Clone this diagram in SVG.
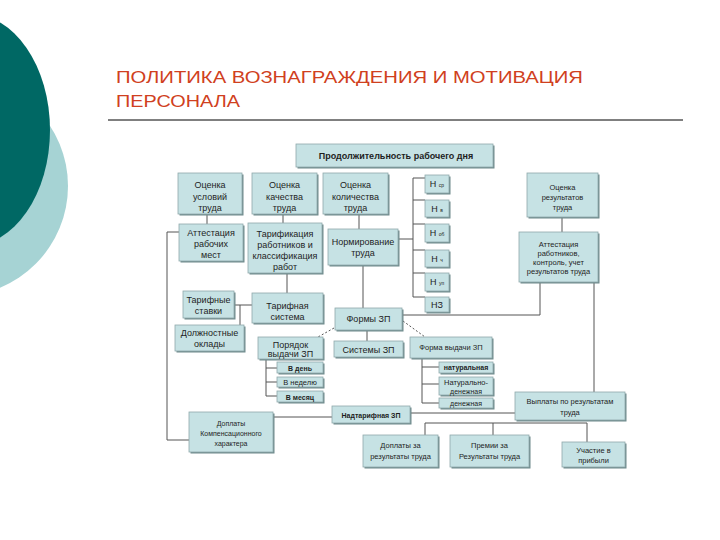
<svg xmlns="http://www.w3.org/2000/svg" width="720" height="540" viewBox="0 0 720 540">
<style>
.sh{fill:#6f8a8c}
.b{fill:#c6e2e4;stroke:#8fa9ab;stroke-width:0.8}
.t{font-family:"Liberation Sans",Arial,sans-serif;font-size:9px;fill:#1e1e1e;text-anchor:middle}
.s{font-size:7.5px}
.xs{font-size:7px}
.bd{font-weight:bold}
.c{fill:none;stroke:#555;stroke-width:1}
.d{fill:none;stroke:#555;stroke-width:1;stroke-dasharray:2,2}
.title{font-family:"Liberation Sans",Arial,sans-serif;font-size:17px;fill:#d04020}
</style>
<rect width="720" height="540" fill="#fff"/>
<circle cx="-42" cy="186" r="110" fill="#a6d3d4"/>
<ellipse cx="-30" cy="130" rx="80" ry="116" fill="#006864"/>
<text class="title" x="116" y="83" textLength="467" lengthAdjust="spacingAndGlyphs">ПОЛИТИКА ВОЗНАГРАЖДЕНИЯ  И МОТИВАЦИЯ</text>
<text class="title" x="116" y="107" textLength="124" lengthAdjust="spacingAndGlyphs">ПЕРСОНАЛА</text>
<line x1="108" y1="120" x2="683" y2="120" stroke="#000" stroke-width="1"/>

<g id="connectors">
<path class="c" d="M207,214V224M283,214V223M359,214V229M287,273V293M363,265V308M367,330V341"/>
<path class="d" d="M334,328L318,337M403,321L425,337"/>
<path class="c" d="M398,239H413M413,178V297M413,178H425M413,200H425M413,224H425M413,250H425M413,273H425M413,297H425"/>
<path class="c" d="M403,315H540V282M562,217V232M594,282V392"/>
<path class="c" d="M234,305H252M240,305V325"/>
<path class="c" d="M266,359V396M266,368H277M266,382H277M266,396H277"/>
<path class="c" d="M422,358V403M422,367H439M422,384H439M422,403H439"/>
<path class="c" d="M179,232H167V440H189"/>
<path class="c" d="M273,417H332M410,413H515"/>
<path class="c" d="M425,423H587M425,423V435M493,423V435M587,423V442"/>
</g>

<g id="n_prod"><rect class="sh" x="297.5" y="145.5" width="197" height="23"/><rect class="b" x="296" y="144" width="197" height="23"/><text class="t bd" x="396" y="159">Продолжительность рабочего дня</text></g>
<g id="n_ocu"><rect class="sh" x="179.5" y="174.5" width="64" height="41"/><rect class="b" x="178" y="173" width="64" height="41"/><text class="t" x="210" y="188">Оценка</text><text class="t" x="210" y="200">условий</text><text class="t" x="210" y="211">труда</text></g>
<g id="n_ock"><rect class="sh" x="253.5" y="174.5" width="65" height="41"/><rect class="b" x="252" y="173" width="65" height="41"/><text class="t" x="284.5" y="188">Оценка</text><text class="t" x="284.5" y="200">качества</text><text class="t" x="284.5" y="211">труда</text></g>
<g id="n_ocl"><rect class="sh" x="324.5" y="174.5" width="65" height="41"/><rect class="b" x="323" y="173" width="65" height="41"/><text class="t" x="355.5" y="188">Оценка</text><text class="t" x="355.5" y="200">количества</text><text class="t" x="355.5" y="211">труда</text></g>
<g id="n_att"><rect class="sh" x="180.5" y="225.5" width="64" height="37"/><rect class="b" x="179" y="224" width="64" height="37"/><text class="t" x="211" y="236">Аттестация</text><text class="t" x="211" y="247">рабочих</text><text class="t" x="211" y="258">мест</text></g>
<g id="n_tar"><rect class="sh" x="249.5" y="224.5" width="74" height="50"/><rect class="b" x="248" y="223" width="74" height="50"/><text class="t" x="285" y="237">Тарификация</text><text class="t" x="285" y="248">работников и</text><text class="t" x="285" y="259">классификация</text><text class="t" x="285" y="270">работ</text></g>
<g id="n_norm"><rect class="sh" x="329.5" y="230.5" width="70" height="36"/><rect class="b" x="328" y="229" width="70" height="36"/><text class="t" x="363" y="245">Нормирование</text><text class="t" x="363" y="256">труда</text></g>
<g id="n_hsr"><rect class="sh" x="426.5" y="176.5" width="24" height="18"/><rect class="b" x="425" y="175" width="24" height="18"/><text class="t" x="437" y="187">Н <tspan style="font-size:5px">ср</tspan></text></g>
<g id="n_hv"><rect class="sh" x="426.5" y="201.5" width="24" height="17"/><rect class="b" x="425" y="200" width="24" height="17"/><text class="t" x="437" y="212">Н <tspan style="font-size:5px">в</tspan></text></g>
<g id="n_hob"><rect class="sh" x="426.5" y="225.5" width="24" height="18"/><rect class="b" x="425" y="224" width="24" height="18"/><text class="t" x="437" y="236">Н <tspan style="font-size:5px">об</tspan></text></g>
<g id="n_hch"><rect class="sh" x="426.5" y="251.5" width="24" height="17"/><rect class="b" x="425" y="250" width="24" height="17"/><text class="t" x="437" y="262">Н <tspan style="font-size:5px">ч</tspan></text></g>
<g id="n_hup"><rect class="sh" x="426.5" y="274.5" width="24" height="18"/><rect class="b" x="425" y="273" width="24" height="18"/><text class="t" x="437" y="285">Н <tspan style="font-size:5px">уп</tspan></text></g>
<g id="n_nz"><rect class="sh" x="426.5" y="298.5" width="24" height="15"/><rect class="b" x="425" y="297" width="24" height="15"/><text class="t" x="437" y="308">НЗ</text></g>
<g id="n_ocr"><rect class="sh" x="528.5" y="174.5" width="71" height="44"/><rect class="b" x="527" y="173" width="71" height="44"/><text class="t s" x="562.5" y="190">Оценка</text><text class="t s" x="562.5" y="200">результатов</text><text class="t s" x="562.5" y="210">труда</text></g>
<g id="n_attr"><rect class="sh" x="520.5" y="233.5" width="79" height="50"/><rect class="b" x="519" y="232" width="79" height="50"/><text class="t s" x="558.5" y="247">Аттестация</text><text class="t s" x="558.5" y="256">работников,</text><text class="t s" x="558.5" y="265">контроль, учет</text><text class="t s" x="558.5" y="274">результатов труда</text></g>
<g id="n_tst"><rect class="sh" x="184.5" y="292.5" width="51" height="27"/><rect class="b" x="183" y="291" width="51" height="27"/><text class="t" x="208.5" y="303">Тарифные</text><text class="t" x="208.5" y="314">ставки</text></g>
<g id="n_doc"><rect class="sh" x="176.5" y="326.5" width="69" height="26"/><rect class="b" x="175" y="325" width="69" height="26"/><text class="t" x="209.5" y="336">Должностные</text><text class="t" x="209.5" y="347">оклады</text></g>
<g id="n_tsys"><rect class="sh" x="253.5" y="294.5" width="71" height="30"/><rect class="b" x="252" y="293" width="71" height="30"/><text class="t" x="287.5" y="309">Тарифная</text><text class="t" x="287.5" y="320">система</text></g>
<g id="n_forms"><rect class="sh" x="336.5" y="309.5" width="67" height="22"/><rect class="b" x="335" y="308" width="67" height="22"/><text class="t" x="368.5" y="322">Формы ЗП</text></g>
<g id="n_poryadok"><rect class="sh" x="259.5" y="338.5" width="65" height="22"/><rect class="b" x="258" y="337" width="65" height="22"/><text class="t" x="290.5" y="348">Порядок</text><text class="t" x="290.5" y="357">выдачи ЗП</text></g>
<g id="n_sys"><rect class="sh" x="335.5" y="342.5" width="69" height="16"/><rect class="b" x="334" y="341" width="69" height="16"/><text class="t" x="368.5" y="352.5">Системы ЗП</text></g>
<g id="n_fvyd"><rect class="sh" x="411.5" y="338.5" width="82" height="21"/><rect class="b" x="410" y="337" width="82" height="21"/><text class="t s" x="451" y="350">Форма выдачи ЗП</text></g>
<g id="n_nat"><rect class="sh" x="440.5" y="363.5" width="54" height="11"/><rect class="b" x="439" y="362" width="54" height="11"/><text class="t xs bd" x="466" y="370">натуральная</text></g>
<g id="n_natden"><rect class="sh" x="440.5" y="378.5" width="54" height="18"/><rect class="b" x="439" y="377" width="54" height="18"/><text class="t s" x="466" y="385">Натурально-</text><text class="t xs" x="466" y="394">денежная</text></g>
<g id="n_den"><rect class="sh" x="440.5" y="399.5" width="54" height="10"/><rect class="b" x="439" y="398" width="54" height="10"/><text class="t xs" x="466" y="405.5">денежная</text></g>
<g id="n_day"><rect class="sh" x="278.5" y="363.5" width="46" height="11"/><rect class="b" x="277" y="362" width="46" height="11"/><text class="t xs bd" x="300" y="370.5">В день</text></g>
<g id="n_week"><rect class="sh" x="278.5" y="378.5" width="46" height="10"/><rect class="b" x="277" y="377" width="46" height="10"/><text class="t s" x="300" y="385">В неделю</text></g>
<g id="n_month"><rect class="sh" x="278.5" y="392.5" width="46" height="11"/><rect class="b" x="277" y="391" width="46" height="11"/><text class="t xs bd" x="300" y="399.5">В месяц</text></g>
<g id="n_nadt"><rect class="sh" x="333.5" y="407.5" width="78" height="17"/><rect class="b" x="332" y="406" width="78" height="17"/><text class="t xs bd" x="371" y="417.5">Надтарифная ЗП</text></g>
<g id="n_dopk"><rect class="sh" x="190.5" y="413.5" width="84" height="40"/><rect class="b" x="189" y="412" width="84" height="40"/><text class="t xs" x="231" y="425.5">Доплаты</text><text class="t xs" x="231" y="435.5">Компенсационного</text><text class="t xs" x="231" y="445.5">характера</text></g>
<g id="n_vypl"><rect class="sh" x="516.5" y="393.5" width="110" height="28"/><rect class="b" x="515" y="392" width="110" height="28"/><text class="t s" x="570" y="404">Выплаты по результатам</text><text class="t s" x="570" y="415">труда</text></g>
<g id="n_dopr"><rect class="sh" x="364.5" y="436.5" width="75" height="32"/><rect class="b" x="363" y="435" width="75" height="32"/><text class="t s" x="400.5" y="448">Доплаты за</text><text class="t s" x="400.5" y="459">результаты труда</text></g>
<g id="n_prem"><rect class="sh" x="451.5" y="436.5" width="79" height="32"/><rect class="b" x="450" y="435" width="79" height="32"/><text class="t s" x="489.5" y="448">Премии за</text><text class="t s" x="489.5" y="459">Результаты труда</text></g>
<g id="n_uch"><rect class="sh" x="563.5" y="443.5" width="63" height="25"/><rect class="b" x="562" y="442" width="63" height="25"/><text class="t s" x="593.5" y="453">Участие в</text><text class="t s" x="593.5" y="463">прибыли</text></g>
</svg>
